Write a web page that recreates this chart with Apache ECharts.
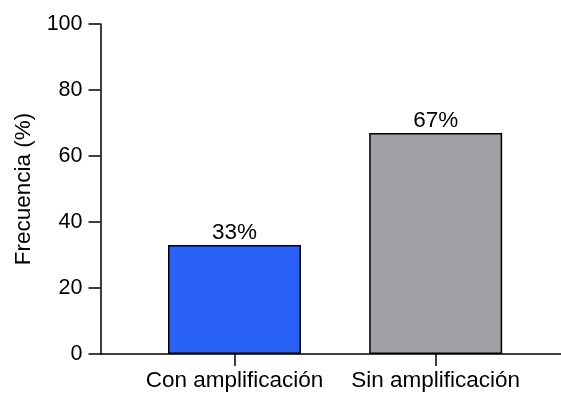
<!DOCTYPE html>
<html>
<head>
<meta charset="utf-8">
<script src="https://cdn.jsdelivr.net/npm/echarts@6/dist/echarts.min.js"></script>
<style>
  html, body { margin: 0; padding: 0; background: #fff; }
  #chart { width: 561px; height: 393px; }
</style>
</head>
<body>
<div id="chart"></div>
<script>
// datos del gráfico
var categorias = ['Con amplificación', 'Sin amplificación'];
var frecuencias = [33, 67];
var coloresBarras = ['#2962f5', '#a09fa4'];
var ticksY = [0, 20, 40, 60, 80, 100];

var chart = echarts.init(document.getElementById('chart'));

// posición de cada barra = índice de la categoría
var posiciones = categorias.map(function (c, i) { return i; });

var datos = frecuencias.map(function (v, i) {
    return {
        value: [posiciones[i], v],
        itemStyle: { color: coloresBarras[i] }
    };
});

var fuente = 'Liberation Sans, Arial, sans-serif';

var option = {
    animation: false,
    grid: { left: 100.5, right: 0, top: 24, bottom: 39, containLabel: false },
    xAxis: {
        type: 'value',
        min: -0.666,
        max: 1.623,
        splitLine: { show: false },
        axisLine: { show: true, onZero: false, lineStyle: { color: '#000', width: 1.5 } },
        axisTick: { show: true, length: 12, customValues: posiciones, lineStyle: { color: '#000', width: 1.5 } },
        axisLabel: {
            customValues: posiciones,
            margin: 15,
            color: '#000',
            fontSize: 22.5,
            fontFamily: fuente,
            formatter: function (v) { return categorias[Math.round(v)] || ''; }
        }
    },
    yAxis: {
        type: 'value',
        min: ticksY[0],
        max: ticksY[ticksY.length - 1],
        interval: 20,
        name: 'Frecuencia (%)',
        nameLocation: 'middle',
        nameGap: 64,
        nameTextStyle: { color: '#000', fontSize: 22.5, fontFamily: fuente },
        splitLine: { show: false },
        axisLine: { show: true, onZero: false, lineStyle: { color: '#000', width: 1.5 } },
        axisTick: { show: true, length: 12, lineStyle: { color: '#000', width: 1.5 } },
        axisLabel: { margin: 18, color: '#000', fontSize: 21.5, fontFamily: fuente }
    },
    series: [{
        type: 'bar',
        barWidth: 133,
        data: datos,
        itemStyle: { borderColor: '#000', borderWidth: 1.5 },
        label: {
            show: true,
            position: 'top',
            distance: 1,
            color: '#000',
            fontSize: 22.5,
            fontFamily: fuente,
            formatter: function (p) { return p.value[1] + '%'; }
        }
    }]
};

chart.setOption(option);
</script>
</body>
</html>
